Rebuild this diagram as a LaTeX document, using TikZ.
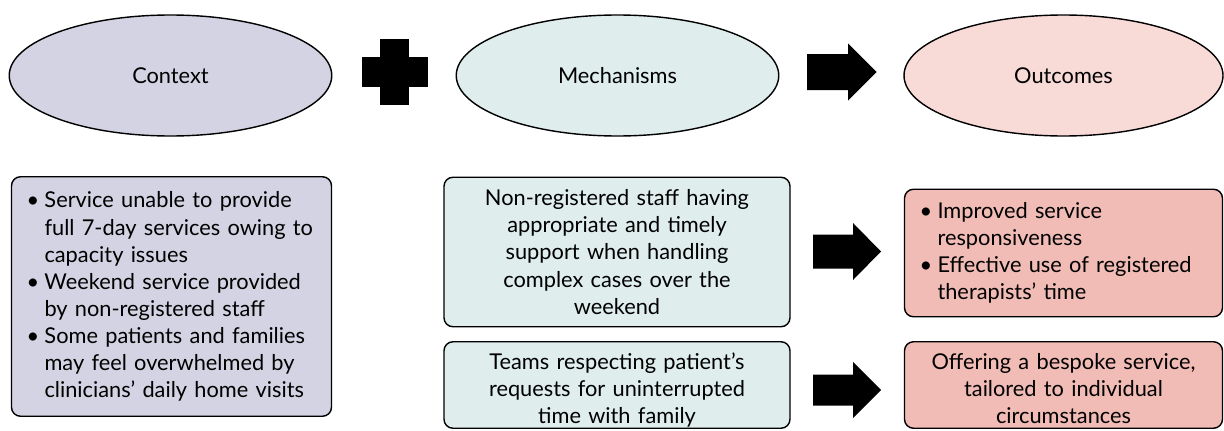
\documentclass[tikz,border=0pt]{standalone}
\usepackage{fontspec}
\setmainfont{Lato}
\usepackage{tikz}
\usetikzlibrary{shapes,calc,positioning}
\tikzstyle{oval}=[ellipse, draw=black, line width=0.8pt, minimum width=6.45cm, minimum height=2.42cm, inner sep=0pt]
\tikzstyle{box}=[rectangle, rounded corners=0.18cm, draw=black, line width=0.8pt, inner xsep=0.3cm, inner ysep=0pt]
\tikzstyle{low}=[text height=0.556cm, text depth=1.17cm]
\tikzstyle{blk}=[fill=black]
\usepackage{xcolor}
\definecolor{mlav}{HTML}{D3D3E3}
\definecolor{mcyan}{HTML}{DFEDED}
\definecolor{mpink}{HTML}{F8DAD7}
\definecolor{mrose}{HTML}{F2BCB6}
\newcommand{\itembul}{\makebox[0.36cm][l]{\textbullet}}
\newcommand{\itemgap}{\hspace*{0.36cm}}

\begin{document}
\begin{tikzpicture}[font=\fontsize{12.4}{15.4}\selectfont]
    \useasboundingbox (0,0) rectangle (24.48,-8.6);

    % top row
    \node[oval, fill=mlav] at (3.41,-1.51) (ctx) {Context};
    \node[oval, fill=mcyan] at (12.35,-1.51) (mech) {Mechanisms};
    \node[oval, fill=mpink, minimum width=6.38cm] at (21.27,-1.51) (out) {Outcomes};

    \fill[blk] (7.23,-1.74) rectangle (8.55,-1.14);
    \fill[blk] (7.60,-2.10) rectangle (8.18,-0.78);
    \fill[blk, shift={(16.14,-1.44)}] (0,0.36) -- (0.82,0.36) -- (0.82,0.57) -- (1.39,0) -- (0.82,-0.57) -- (0.82,-0.36) -- (0,-0.36) -- cycle;

    % bottom row
    \node[box, fill=mlav, text width=5.8cm, minimum height=4.79cm, align=left] at (3.43,-5.93) (ctxlist) {%
        \itembul Service unable to provide\\
        \itemgap full 7-day services owing to\\
        \itemgap capacity issues\\
        \itembul Weekend service provided\\
        \itemgap by non-registered staff\\
        \itembul Some patients and families\\
        \itemgap may feel overwhelmed by\\
        \itemgap clinicians’ daily home visits};
    \node[box, fill=mcyan, text width=6.32cm, minimum height=2.99cm, align=center] at (12.34,-5.04) (mech1) {%
        Non-registered staff having\\ appropriate and timely\\ support when handling\\ complex cases over the\\ weekend};
    \node[box, low, fill=mcyan, text width=6.32cm, minimum height=1.73cm, align=center] at (12.34,-7.70) (mech2) {%
        Teams respecting patient’s\\ requests for uninterrupted\\ time with family};
    \node[box, fill=mrose, text width=5.76cm, minimum height=2.55cm, align=left] at (21.27,-5.06) (out1) {%
        \itembul Improved service\\
        \itemgap responsiveness\\
        \itembul Effective use of registered\\
        \itemgap therapists’ time};
    \node[box, low, fill=mrose, text width=5.76cm, minimum height=1.73cm, align=center] at (21.27,-7.70) (out2) {%
        Offering a bespoke service,\\ tailored to individual\\ circumstances};

    \fill[blk, shift={(16.26,-5.03)}] (0,0.34) -- (0.80,0.34) -- (0.80,0.57) -- (1.36,0) -- (0.80,-0.57) -- (0.80,-0.34) -- (0,-0.34) -- cycle;
    \fill[blk, shift={(16.26,-7.80)}] (0,0.31) -- (0.80,0.31) -- (0.80,0.56) -- (1.36,0) -- (0.80,-0.56) -- (0.80,-0.31) -- (0,-0.31) -- cycle;
\end{tikzpicture}
\end{document}
